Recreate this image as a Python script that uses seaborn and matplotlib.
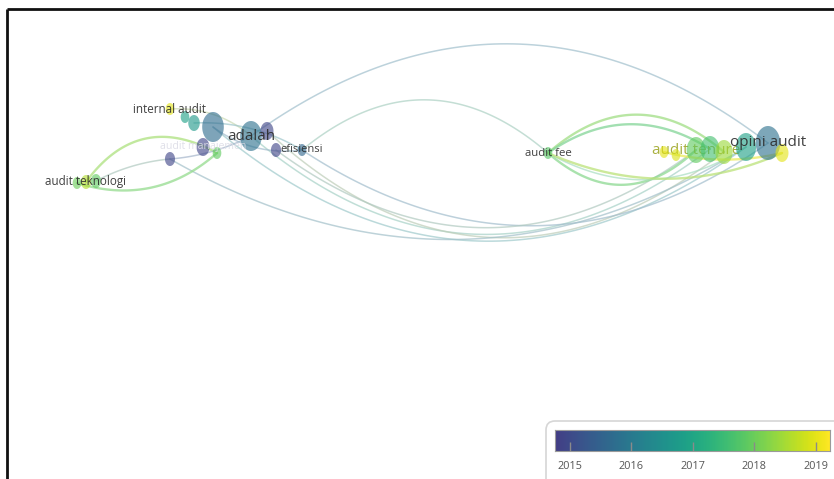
import numpy as np
import pandas as pd
import matplotlib
matplotlib.use('Agg')
import matplotlib.pyplot as plt
import seaborn as sns
from matplotlib.colors import ListedColormap, Normalize, to_rgb
from matplotlib.path import Path
from matplotlib.patches import FancyBboxPatch

sns.set_theme(style='white')
plt.rcParams['font.family'] = ['Open Sans', 'DejaVu Sans']

# ---------------- data ----------------
node_x = [170, 185, 194, 213, 251, 267, 276, 302, 203, 217, 170, 77, 86, 96,
          548, 664, 676, 696, 710, 724, 746, 768, 782]
node_y = [109, 117, 123, 127, 136, 131, 150, 150, 147, 153, 159, 183, 182, 181,
          153, 152, 155, 150, 149, 152, 147, 143, 153]
node_r = [6, 6, 8, 15, 15, 9, 7, 6, 9, 6, 7, 6, 7, 7,
          6, 6, 6, 13, 13, 12, 14, 17, 9]
node_year = [2019.0, 2016.9, 2016.7, 2015.7, 2015.8, 2014.9, 2014.9, 2015.6, 2014.9,
             2017.9, 2014.9, 2018.0, 2018.6, 2017.9,
             2017.8, 2019.0, 2018.9, 2017.9, 2017.6, 2018.4, 2016.9, 2015.8, 2019.0]

labels = ['internal audit', 'adalah', 'efisiensi', 'audit teknologi',
          'audit fee', 'audit tenure', 'opini audit', 'audit manajemen']
label_node = [0, 4, 7, 12, 14, 17, 21, 8]
label_size = [8.4, 11.0, 8.0, 8.4, 8.2, 11.0, 11.0, 7.6]
label_color = ['#2b2b2b', '#2b2b2b', '#2b2b2b', '#2b2b2b', '#2b2b2b',
               '#a0a82c', '#2b2b2b', '#dcdce6']

edge_src = [4, 7, 3, 4, 5, 7, 6, 10, 14, 14, 14, 14, 14, 15, 13, 12, 11, 10, 3, 0, 2]
edge_dst = [21, 14, 20, 18, 19, 21, 17, 20, 19, 18, 17, 20, 22, 22, 10, 9, 9, 4, 7, 4, 7]
edge_bend = [0.37, 0.42, -0.39, -0.40, -0.42, -0.34, -0.37, -0.30,
             0.43, 0.33, -0.45, -0.30, -0.22, -0.12,
             0.10, 0.44, -0.28, -0.10, -0.20, 0.20, 0.15]

cbar_years = [2015, 2016, 2017, 2018, 2019]

# ---------------- styling ----------------
vmin, vmax = 2014.76, 2019.23
base = plt.get_cmap('viridis')
cmap = ListedColormap(base(np.linspace(0.18, 1.0, 256)))
norm = Normalize(vmin, vmax)

df = pd.DataFrame({'x': node_x, 'y': node_y, 'r': node_r, 'year': node_year})
df['s'] = (2 * df['r'] * 0.72) ** 2

fig = plt.figure(figsize=(8.34, 4.79), dpi=100)
ax = fig.add_axes([0, 0, 1, 1])

# edges
t = np.linspace(0, 1, 80)[:, None]
for s, d, b in zip(edge_src, edge_dst, edge_bend):
    p0 = np.array([node_x[s], node_y[s]], float)
    p1 = np.array([node_x[d], node_y[d]], float)
    v = p1 - p0
    L = np.hypot(*v)
    n = np.array([v[1], -v[0]]) / L
    c = (p0 + p1) / 2 + n * b * L
    pts = (1 - t) ** 2 * p0 + 2 * (1 - t) * t * c + t ** 2 * p1
    col = (np.array(to_rgb(cmap(norm(node_year[s])))) + np.array(to_rgb(cmap(norm(node_year[d]))))) / 2
    green = min(node_year[s], node_year[d]) > 2017.5
    if green:
        col = 0.7 * col + 0.3
    else:
        col = 0.45 * col + 0.55
    ax.plot(pts[:, 0], pts[:, 1], color=col, lw=1.7 if green else 1.1,
            alpha=0.75 if green else 0.7, solid_capstyle='round', zorder=1)

# nodes (vertical ellipses)
th = np.linspace(0, 2 * np.pi, 64)
ell = Path(np.c_[0.72 * np.cos(th), np.sin(th)], closed=True)
sns.scatterplot(data=df, x='x', y='y', hue='year', hue_norm=norm, palette=cmap,
                s=df['s'], marker=ell, alpha=0.62, edgecolor='none',
                legend=False, ax=ax, zorder=3)
ax.set_xlim(0, 834)
ax.set_ylim(479, 0)
ax.axis('off')

# labels
for lab, ni, fs, lc in zip(labels, label_node, label_size, label_color):
    ax.text(node_x[ni], node_y[ni], lab, ha='center', va='center', fontsize=fs,
            color=lc, zorder=4 if lab != 'audit tenure' else 2.5, alpha=0.9)

# frame lines
ax.plot([7, 7], [9, 479], color='#111111', lw=2.0, zorder=10, solid_capstyle='butt')
ax.plot([7, 834], [9, 9], color='#111111', lw=2.0, zorder=10, solid_capstyle='butt')

# legend box
box = FancyBboxPatch((546, 421), 310, 80, boxstyle='round,pad=0,rounding_size=9',
                     fc='white', ec='#d6d6d6', lw=1.2, zorder=8)
ax.add_patch(box)

ax_cb = fig.add_axes([555 / 834, 1 - 451 / 479, 275 / 834, 21 / 479])
grad = np.linspace(vmin, vmax, 256)[None, :]
ax_cb.imshow(grad, cmap=cmap, norm=norm, extent=[vmin, vmax, 0, 1], aspect='auto')
ax_cb.vlines(cbar_years, 0, 0.42, color='#8a8a8a', lw=1.0)
ax_cb.set_xticks(cbar_years)
ax_cb.set_xticklabels([str(y) for y in cbar_years], fontsize=7.8, color='#555555')
ax_cb.tick_params(axis='x', length=0, pad=7)
ax_cb.set_yticks([])
for sp in ax_cb.spines.values():
    sp.set_color('#9a9a9a')
    sp.set_linewidth(0.8)

fig.savefig('out.png', dpi=100)
